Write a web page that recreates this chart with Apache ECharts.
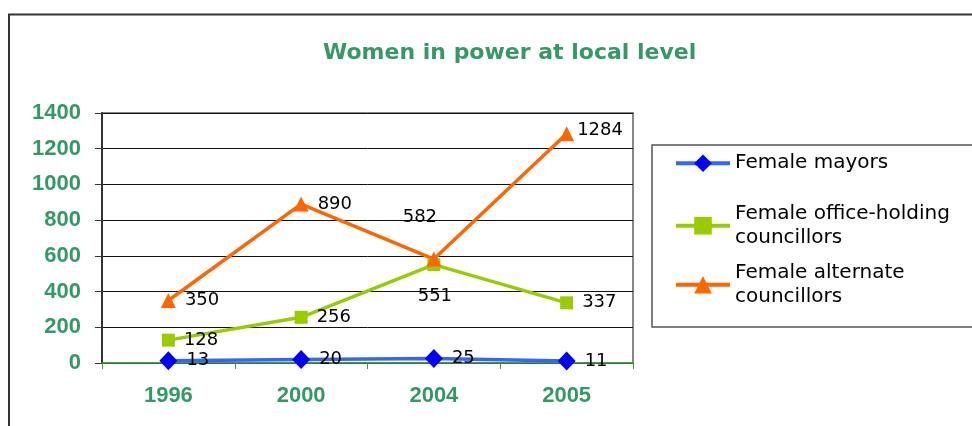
<!DOCTYPE html>
<html>
<head>
<meta charset="utf-8">
<script src="https://cdn.jsdelivr.net/npm/echarts@6/dist/echarts.min.js"></script>
<style>
    html, body { margin: 0; padding: 0; background: #fff; }
    #chart-div { width: 972px; height: 426px; }
</style>
</head>
<body>
<div id="chart-div"></div>
<script>
// data
const years = ['1996', '2000', '2004', '2005']
const mayors = [13, 20, 25, 11]
const officeCouncillors = [128, 256, 551, 337]
const alternateCouncillors = [350, 890, 582, 1284]
const yTicks = [0, 200, 400, 600, 800, 1000, 1200, 1400]
const names = ['Female mayors', 'Female office-holding\ncouncillors', 'Female alternate\ncouncillors']

const green = '#339966'
const labelFont = { color: '#000', fontFamily: 'DejaVu Sans', fontSize: 18 }

// labels that sit off to the side in the original
const officeFix = { 2: { position: 'bottom', distance: 5, offset: [1, 11] } }
const alternateFix = { 2: { position: 'top', distance: 5, offset: [-14, -20] }, 3: { distance: 3, offset: [0, -3] } }

function points(values, fix) {
    return values.map((v, i) => fix && fix[i] ? { value: v, label: fix[i] } : v)
}

function lineSeries(name, values, fix, color, markColor, symbol, size) {
    return {
        name: name,
        type: 'line',
        data: points(values, fix),
        symbol: symbol,
        symbolSize: size,
        lineStyle: { color: color, width: 3.5 },
        itemStyle: { color: markColor, borderWidth: 0 },
        label: Object.assign({ show: true, position: 'right', distance: 9 }, labelFont),
        emphasis: { disabled: true }
    }
}

function legendFor(i, top) {
    const twoLines = names[i].indexOf('\n') >= 0
    return {
        data: [names[i]],
        left: 674,
        top: top,
        padding: 0,
        itemWidth: 54,
        itemHeight: 22,
        itemGap: 5,
        selectedMode: false,
        lineStyle: { width: 4 },
        textStyle: {
            color: '#000', fontFamily: 'DejaVu Sans', fontSize: 20, lineHeight: 23.5,
            padding: twoLines ? [23.5, 0, 0, 0] : 0
        }
    }
}

let myChart = echarts.init(document.getElementById('chart-div'))

const option = {
    animation: false,
    title: {
        text: 'Women in power at local level',
        left: 318,
        top: 37,
        textStyle: { color: green, fontFamily: 'DejaVu Sans', fontWeight: 'bold', fontSize: 22 }
    },
    legend: [legendFor(0, 151.5), legendFor(1, 190.5), legendFor(2, 249.5)],
    grid: {
        left: 102, top: 113, right: 339, bottom: 63,
        show: true, borderColor: '#888', borderWidth: 2
    },
    xAxis: {
        type: 'category',
        data: years,
        boundaryGap: true,
        axisLine: { lineStyle: { color: '#3c9a3c', width: 1.5 } },
        axisTick: { show: true, length: 6, inside: false, lineStyle: { color: '#3c9a3c' } },
        axisLabel: { color: green, fontFamily: 'Liberation Sans', fontWeight: 'bold', fontSize: 22, margin: 22 }
    },
    yAxis: {
        type: 'value',
        min: yTicks[0],
        max: yTicks[yTicks.length - 1],
        interval: yTicks[1] - yTicks[0],
        axisLine: { show: true, lineStyle: { color: '#333', width: 2 } },
        axisTick: { show: true, length: 7, lineStyle: { color: '#333' } },
        splitLine: { lineStyle: { color: '#111', width: 1 } },
        axisLabel: {
            color: green, fontFamily: 'Liberation Sans', fontWeight: 'bold', fontSize: 22, margin: 21,
            formatter: v => String(v) // no thousands separator
        }
    },
    series: [
        lineSeries(names[0], mayors, null, '#3366ff', '#0000ff', 'diamond', [18, 19]),
        lineSeries(names[1], officeCouncillors, officeFix, '#99cc00', '#99cc00', 'rect', 13),
        lineSeries(names[2], alternateCouncillors, alternateFix, '#ff6600', '#ff6600', 'triangle', 15)
    ],
    graphic: [
        { type: 'rect', shape: { x: 9, y: 14.5, width: 1000, height: 500 }, style: { fill: 'none', stroke: '#333', lineWidth: 2 }, silent: true },
        { type: 'rect', shape: { x: 652, y: 145, width: 340, height: 182 }, style: { fill: 'none', stroke: '#555', lineWidth: 1.5 }, silent: true }
    ]
}

myChart.setOption(option)
</script>
</body>
</html>
